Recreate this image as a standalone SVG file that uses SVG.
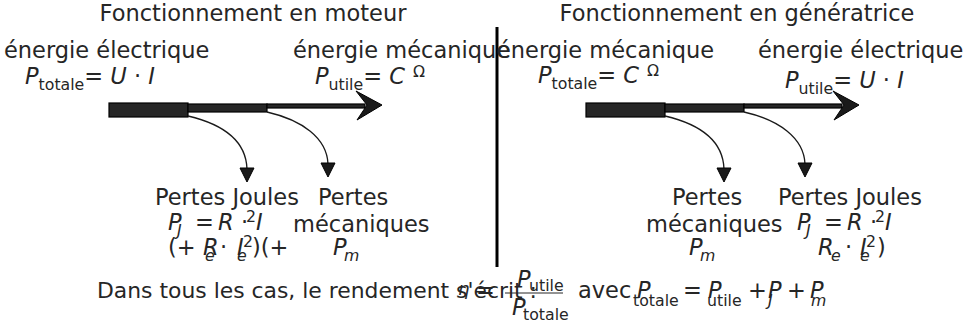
<svg xmlns="http://www.w3.org/2000/svg" width="971" height="327" viewBox="0 0 971 327">
<style>
text{font-family:"DejaVu Sans","Noto Sans",sans-serif;font-size:22.5px;fill:#262626}
.i{font-style:italic}
.s{font-size:15.75px}
.bar{fill:#262626;stroke:#000;stroke-width:1.2}
.cv{fill:none;stroke:#1a1a1a;stroke-width:1.3}
.ah{fill:#1a1a1a;stroke:#000;stroke-width:1}
</style>
<rect width="971" height="327" fill="#fff"/>
<g id="connectors">
  <g id="flow-moteur">
    <rect class="bar" x="109" y="103" width="79" height="14"/>
    <rect class="bar" x="188" y="104" width="79" height="8"/>
    <rect class="bar" x="267" y="104" width="98" height="4"/>
    <path class="ah" d="M382,105 L356,91 L367,105 L357,120 Z"/>
    <path class="cv" d="M188,116 C222,124 246,140 247,169"/>
    <path class="ah" d="M240,168 L254,168 L247,182 Z"/>
    <path class="cv" d="M267,112 C302,120 327,138 328,164"/>
    <path class="ah" d="M321,163 L335,163 L328,177 Z"/>
  </g>
  <g id="flow-generatrice" transform="translate(477,0)">
    <rect class="bar" x="109" y="103" width="79" height="14"/>
    <rect class="bar" x="188" y="104" width="79" height="8"/>
    <rect class="bar" x="267" y="104" width="98" height="4"/>
    <path class="ah" d="M382,105 L356,91 L367,105 L357,120 Z"/>
    <path class="cv" d="M188,116 C222,124 246,140 247,169"/>
    <path class="ah" d="M240,168 L254,168 L247,182 Z"/>
    <path class="cv" d="M267,112 C302,120 327,138 328,164"/>
    <path class="ah" d="M321,163 L335,163 L328,177 Z"/>
  </g>
  <line id="separateur" x1="497" y1="27" x2="497" y2="267" stroke="#000" stroke-width="3"/>
</g>
<g id="titre-moteur"><text x="253" y="21" text-anchor="middle">Fonctionnement en moteur</text></g>
<g id="titre-generatrice"><text x="737" y="21" text-anchor="middle">Fonctionnement en génératrice</text></g>
<g id="m-entree">
  <text x="4" y="58">énergie électrique</text>
  <text x="25" y="84"><tspan class="i">P</tspan><tspan class="s" dy="6">totale</tspan><tspan dy="-6">= </tspan><tspan class="i">U</tspan> · <tspan class="i">I</tspan></text>
</g>
<g id="m-sortie">
  <text x="293" y="58">énergie mécanique</text>
  <text x="315" y="84"><tspan class="i">P</tspan><tspan class="s" dy="6">utile</tspan><tspan dy="-6">= </tspan><tspan class="i">C</tspan><tspan class="s" dx="8" dy="-7">Ω</tspan></text>
</g>
<g id="m-joules">
  <text x="155" y="205">Pertes Joules</text>
  <text y="230"><tspan class="i" x="168">P</tspan><tspan class="s i" x="177" dy="6">J</tspan><tspan x="195" dy="-6">=</tspan><tspan class="i" x="218">R</tspan><tspan x="241">·</tspan><tspan class="s" x="246" dy="-8">2</tspan><tspan class="i" x="256" dy="8">I</tspan></text>
  <text y="255"><tspan x="168">(+ </tspan><tspan class="i" x="203">R</tspan><tspan class="s i" x="205" dy="6">e</tspan><tspan x="220" dy="-6">·</tspan><tspan class="i" x="237">I</tspan><tspan class="s i" x="237" dy="6">e</tspan><tspan class="s" x="243" dy="-14">2</tspan><tspan x="252" dy="8">)(+</tspan></text>
</g>
<g id="m-meca">
  <text x="318" y="205">Pertes</text>
  <text x="293" y="232">mécaniques</text>
  <text y="255"><tspan class="i" x="333">P</tspan><tspan class="s i" x="344" dy="6">m</tspan></text>
</g>
<g id="g-entree">
  <text x="497" y="58">énergie mécanique</text>
  <text x="538" y="83"><tspan class="i">P</tspan><tspan class="s" dy="6">totale</tspan><tspan dy="-6">= </tspan><tspan class="i">C</tspan><tspan class="s" dx="8" dy="-7">Ω</tspan></text>
</g>
<g id="g-sortie">
  <text x="758" y="58">énergie électrique</text>
  <text x="785" y="88"><tspan class="i">P</tspan><tspan class="s" dy="6">utile</tspan><tspan dy="-6">= </tspan><tspan class="i">U</tspan> · <tspan class="i">I</tspan></text>
</g>
<g id="g-meca">
  <text x="672" y="205">Pertes</text>
  <text x="646" y="232">mécaniques</text>
  <text y="255"><tspan class="i" x="689">P</tspan><tspan class="s i" x="700" dy="6">m</tspan></text>
</g>
<g id="g-joules">
  <text x="778" y="205">Pertes Joules</text>
  <text y="230"><tspan class="i" x="797">P</tspan><tspan class="s i" x="806" dy="6">J</tspan><tspan x="824" dy="-6">=</tspan><tspan class="i" x="847">R</tspan><tspan x="870">·</tspan><tspan class="s" x="875" dy="-8">2</tspan><tspan class="i" x="885" dy="8">I</tspan></text>
  <text y="255"><tspan class="i" x="818">R</tspan><tspan class="s i" x="831" dy="6">e</tspan><tspan x="845" dy="-6">·</tspan><tspan class="i" x="860">I</tspan><tspan class="s i" x="860" dy="6">e</tspan><tspan class="s" x="866" dy="-14">2</tspan><tspan x="877" dy="8">)</tspan></text>
</g>
<g id="rendement">
  <text x="97" y="298" textLength="440" lengthAdjust="spacingAndGlyphs" style="font-size:22px">Dans tous les cas, le rendement s'écrit :</text>
  <text x="458" y="295" class="i" style="font-size:18px">η</text>
  <text x="476" y="298">=</text>
  <text y="287"><tspan class="i" x="517">P</tspan><tspan class="s" x="529" dy="4">utile</tspan></text>
  <line x1="505" y1="293" x2="563" y2="293" stroke="#262626" stroke-width="1"/>
  <text y="315"><tspan class="i" x="512">P</tspan><tspan class="s" x="523" dy="5">totale</tspan></text>
  <text y="298"><tspan x="578">avec </tspan><tspan class="i" x="637">P</tspan><tspan class="s" x="633" dy="8">totale</tspan><tspan x="683" dy="-8">=</tspan><tspan class="i" x="708">P</tspan><tspan class="s" x="707" dy="8">utile</tspan><tspan x="748" dy="-8">+</tspan><tspan class="i" x="768">P</tspan><tspan class="s i" x="768" dy="8">J</tspan><tspan x="787" dy="-8">+</tspan><tspan class="i" x="810">P</tspan><tspan class="s i" x="811" dy="8">m</tspan></text>
</g>
</svg>
